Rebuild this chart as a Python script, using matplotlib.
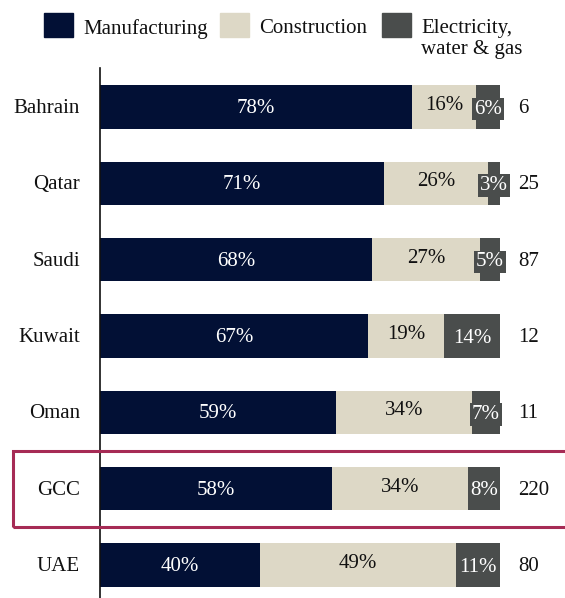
import matplotlib.pyplot as plt
import matplotlib.patches as patches
import numpy as np

plt.rcParams['font.family'] = ['Liberation Serif', 'DejaVu Serif']

countries = ['Bahrain', 'Qatar', 'Saudi', 'Kuwait', 'Oman', 'GCC', 'UAE']
manufacturing = [78, 71, 68, 67, 59, 58, 40]
construction = [16, 26, 27, 19, 34, 34, 49]
electricity = [6, 3, 5, 14, 7, 8, 11]
totals = [6, 25, 87, 12, 11, 220, 80]

c_man = '#021035'
c_con = '#DDD8C6'
c_ele = '#4A4D4C'
c_box = '#A62B55'

W, H = 565, 598
fig = plt.figure(figsize=(W / 100, H / 100), dpi=100)
ax = fig.add_axes([100 / W, 0, 465 / W, (H - 68) / H])

y = np.arange(len(countries))
man = np.array(manufacturing) / 100
con = np.array(construction) / 100
ele = np.array(electricity) / 100
h = 0.57

ax.barh(y, man, height=h, color=c_man)
ax.barh(y, con, left=man, height=h, color=c_con)
ax.barh(y, ele, left=man + con, height=h, color=c_ele)

fs = 15
for i in range(len(countries)):
    ax.text(man[i] / 2, y[i] + 0.02, f'{manufacturing[i]}%', color='white',
            ha='center', va='center', fontsize=fs)
    ax.text(man[i] + con[i] / 2, y[i] - 0.02, f'{construction[i]}%', color='#111111',
            ha='center', va='center', fontsize=fs)
    ax.text(man[i] + con[i] + ele[i] / 2, y[i] + 0.03, f'{electricity[i]}%', color='white',
            ha='center', va='center', fontsize=fs,
            bbox=dict(boxstyle='square,pad=0.08', fc=c_ele, ec='none'))
    ax.text(1.045, y[i] + 0.02, f'{totals[i]}', color='#111111',
            ha='left', va='center', fontsize=fs)
    ax.text(-0.05, y[i] + 0.02, countries[i], color='#111111',
            ha='right', va='center', fontsize=fs)

ax.set_xlim(0, 465 / 400)
ax.set_ylim(6 + 0.433, -0.511)
ax.set_xticks([])
ax.set_yticks([])
for s in ['top', 'right', 'bottom']:
    ax.spines[s].set_visible(False)
ax.spines['left'].set_linewidth(1.2)
ax.spines['left'].set_color('#111111')

# highlight box around GCC
rect = patches.Rectangle((13 / W, (H - 527) / H), 560 / W, 76 / H,
                         transform=fig.transFigure, fill=False,
                         ec=c_box, lw=2.2)
fig.patches.append(rect)

# legend
leg = [(44, c_man, 'Manufacturing'), (220, c_con, 'Construction'),
       (382, c_ele, 'Electricity,\nwater & gas')]
for x0, col, lab in leg:
    fig.patches.append(patches.Rectangle((x0 / W, (H - 37) / H), 29 / W, 24 / H,
                                         transform=fig.transFigure, color=col))
    fig.text((x0 + 39) / W, (H - 19) / H, lab, ha='left', va='top',
             fontsize=fs, color='#111111', linespacing=1.15,
             transform=fig.transFigure)

fig.savefig('out.png', dpi=100)
